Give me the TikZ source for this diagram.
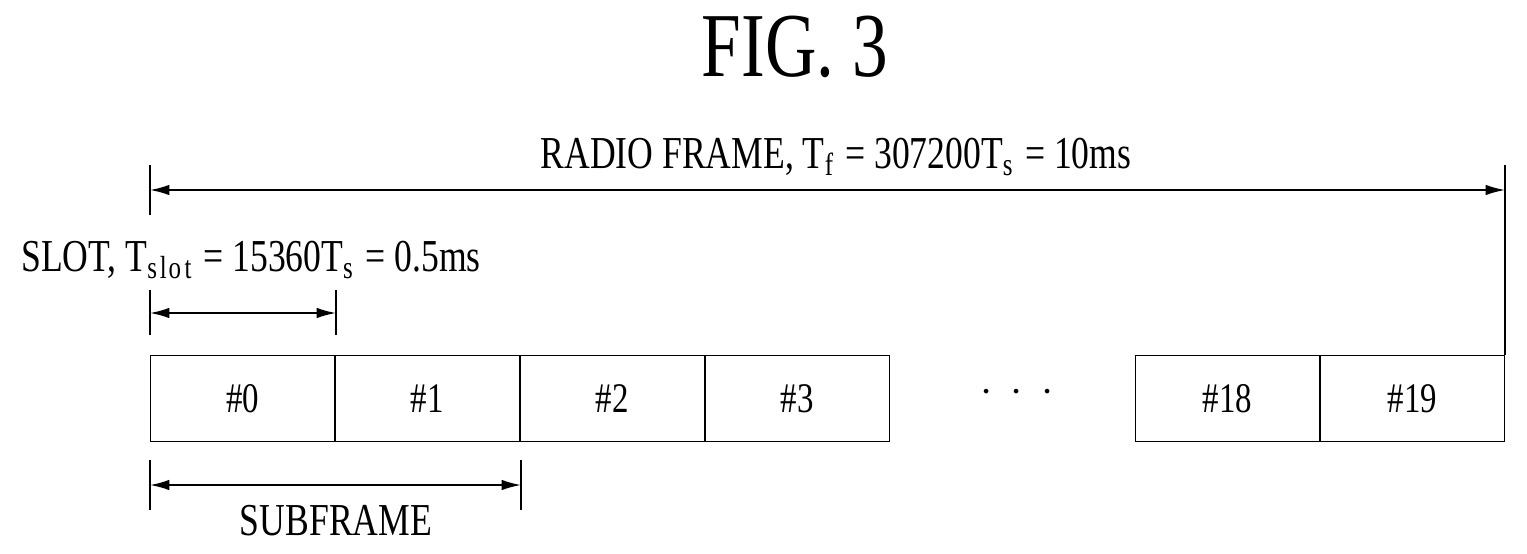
\documentclass[tikz,border=0pt]{standalone}
\usepackage{fontspec}
\setmainfont{Liberation Serif}[FakeStretch=0.78]
\usetikzlibrary{arrows.meta}
\begin{document}
\begin{tikzpicture}[x=0.02cm,y=-0.02cm,
  dim/.style={{Latex[length=11pt,width=6pt]}-{Latex[length=11pt,width=6pt]},line width=1pt},
  tick/.style={line width=0.6pt},
  slotbox/.style={draw,line width=0.7pt,minimum width=3.675cm,minimum height=1.72cm,inner sep=0pt,font=\fontsize{24}{26}\selectfont},
  lbl/.style={font=\fontsize{26}{28}\selectfont,inner sep=0pt}]
\useasboundingbox (0,0) rectangle (1527,554);
\node[font=\fontsize{52}{56}\selectfont] (fig) at (795,47) {FIG. 3};
\coordinate (fa) at (150,165); \coordinate (fb) at (150,215);
\coordinate (ra) at (1505,165); \coordinate (rb) at (1505,355);
\draw[tick] (fa)--(fb); \draw[tick] (ra)--(rb);
\coordinate (f1) at (150,190); \coordinate (f2) at (1505,190);
\draw[dim] (f1)--(f2);
\node[lbl] (ftxt) at (836,157) {RADIO FRAME, T$_{\mathrm f}$ = 307200T$_{\mathrm s}$ = 10ms};
\node[lbl] (stxt) at (251,260) {SLOT, T$_{\mathrm{slot}}$ = 15360T$_{\mathrm s}$ = 0.5ms};
\coordinate (sa) at (150,290); \coordinate (sb) at (150,335);
\coordinate (sc) at (336,290); \coordinate (sd) at (336,335);
\draw[tick] (sa)--(sb); \draw[tick] (sc)--(sd);
\coordinate (s1) at (150,313); \coordinate (s2) at (336,313);
\draw[dim] (s1)--(s2);
\node[slotbox,anchor=north west] (b0) at (150,355) {\#0};
\node[slotbox,anchor=west] (b1) at (b0.east) {\#1};
\node[slotbox,anchor=west] (b2) at (b1.east) {\#2};
\node[slotbox,anchor=west] (b3) at (b2.east) {\#3};
\node[lbl] (dots) at (1017,393) {$\cdot\ \cdot\ \cdot$};
\node[slotbox,anchor=north west] (b18) at (1135,355) {\#18};
\node[slotbox,anchor=west] (b19) at (b18.east) {\#19};
\coordinate (ua) at (150,460); \coordinate (ub) at (150,510);
\coordinate (uc) at (521,460); \coordinate (ud) at (521,510);
\draw[tick] (ua)--(ub); \draw[tick] (uc)--(ud);
\coordinate (u1) at (150,485); \coordinate (u2) at (521,485);
\draw[dim] (u1)--(u2);
\node[lbl] (utxt) at (336,521) {SUBFRAME};
\end{tikzpicture}
\end{document}
